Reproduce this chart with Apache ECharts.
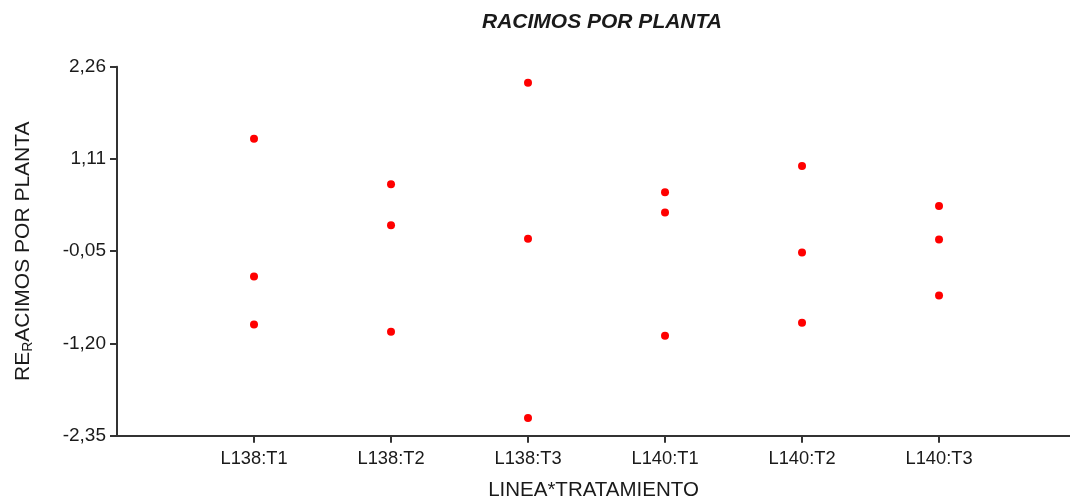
<!DOCTYPE html>
<html>
<head>
<meta charset="utf-8">
<script src="https://cdn.jsdelivr.net/npm/echarts@6/dist/echarts.min.js"></script>
<style>html,body{margin:0;padding:0;background:#fff}#c{width:1070px;height:500px}</style>
</head>
<body>
<div id="c"></div>
<script>
const categories = ['L138:T1', 'L138:T2', 'L138:T3', 'L140:T1', 'L140:T2', 'L140:T3'];
const L138_T1 = [1.36, -0.36, -0.96];
const L138_T2 = [0.79, 0.28, -1.05];
const L138_T3 = [2.06, 0.11, -2.13];
const L140_T1 = [0.69, 0.44, -1.10];
const L140_T2 = [1.02, -0.06, -0.94];
const L140_T3 = [0.52, 0.10, -0.60];
const yTickLabels = ['-2,35', '-1,20', '-0,05', '1,11', '2,26'];
const Y_MIN = -2.35, Y_MAX = 2.26, Y_STEP = 1.1525;

const groups = [L138_T1, L138_T2, L138_T3, L140_T1, L140_T2, L140_T3];
const points = [];
groups.forEach((vals, gi) => vals.forEach(v => points.push([gi + 1, v])));

const FONT = '"Liberation Sans", Arial, sans-serif';
const TXT = '#1a1a1a';
const chart = echarts.init(document.getElementById('c'), null, {renderer: 'canvas'});
chart.setOption({
  animation: false,
  title: {
    text: 'RACIMOS POR PLANTA',
    left: 597, top: 7, textAlign: 'center',
    textStyle: {fontFamily: FONT, fontSize: 21, fontWeight: 'bold', fontStyle: 'italic', color: TXT}
  },
  grid: {left: 117, right: 0, top: 66.7, bottom: 64.3, containLabel: false, outerBoundsMode: 'none'},
  xAxis: {
    type: 'value', min: 0, max: 6.956, interval: 1,
    name: 'LINEA*TRATAMIENTO', nameLocation: 'middle', nameGap: 44,
    nameTextStyle: {fontFamily: FONT, fontSize: 20.5, color: TXT},
    axisLine: {show: true, onZero: false, lineStyle: {color: '#333', width: 2}},
    axisTick: {show: true, length: 7, lineStyle: {color: '#333', width: 2}, customValues: [1, 2, 3, 4, 5, 6]},
    axisLabel: {
      fontFamily: FONT, fontSize: 18.3, color: TXT, margin: 14,
      customValues: [1, 2, 3, 4, 5, 6],
      formatter: v => categories[Math.round(v) - 1] || ''
    },
    splitLine: {show: false}
  },
  yAxis: {
    type: 'value', min: Y_MIN, max: Y_MAX, interval: Y_STEP,
    name: 'RE{sub|R}ACIMOS POR PLANTA', nameLocation: 'middle', nameRotate: 90, nameGap: 82,
    nameTextStyle: {
      fontFamily: FONT, fontSize: 21, color: TXT,
      rich: {sub: {fontFamily: FONT, fontSize: 14, color: TXT, verticalAlign: 'bottom', padding: [10, 0, 0, 0]}}
    },
    axisLine: {show: true, onZero: false, lineStyle: {color: '#333', width: 2}},
    axisTick: {show: true, length: 7, lineStyle: {color: '#333', width: 2}},
    axisLabel: {
      fontFamily: FONT, fontSize: 19, color: TXT, margin: 11,
      formatter: v => yTickLabels[Math.round((v - Y_MIN) / Y_STEP)] || ''
    },
    splitLine: {show: false}
  },
  series: [{
    type: 'scatter',
    data: points,
    symbol: 'circle',
    symbolSize: 8,
    itemStyle: {color: '#ff0000', opacity: 1}
  }]
});
</script>
</body>
</html>
